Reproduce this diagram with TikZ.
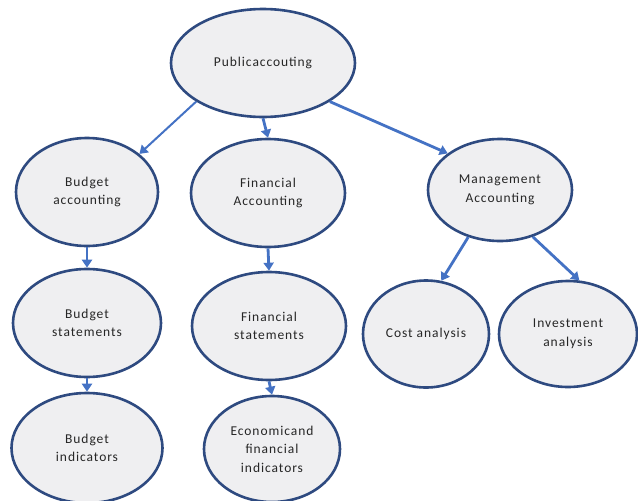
\documentclass[tikz,border=0pt]{standalone}
\usepackage{fontspec}
\setmainfont{Carlito}[LetterSpace=7]
\usetikzlibrary{shapes.geometric,arrows.meta}
\definecolor{bord}{HTML}{2E4A80}
\definecolor{arr}{HTML}{4472C4}
\definecolor{fillg}{HTML}{EFEFF1}
\tikzset{
  ell/.style={ellipse, draw=bord, line width=2.6pt, fill=fillg, inner sep=0pt,
    align=center, font=\fontsize{13.5}{18.5}\selectfont, text=black!85},
  link/.style={draw=arr, line width=2.8pt, -{Triangle[width=10pt,length=8pt]}},
}
\begin{document}
\begin{tikzpicture}[x=1pt,y=-1pt]
\useasboundingbox (0,0) rectangle (638,501);
\node[ell, minimum width=184pt, minimum height=108pt] (pub) at (263,63) {Publicaccouting};
\node[ell, minimum width=142pt, minimum height=108pt] (ba) at (87,192) {Budget\\accounting};
\node[ell, minimum width=154pt, minimum height=108pt] (fa) at (268,193) {Financial\\Accounting};
\node[ell, minimum width=144pt, minimum height=102pt] (ma) at (500,190) {Management\\Accounting};
\node[ell, minimum width=148pt, minimum height=108pt] (bs) at (87,323) {Budget\\statements};
\node[ell, minimum width=154pt, minimum height=108pt] (fs) at (269,326) {Financial\\statements};
\node[ell, minimum width=126pt, minimum height=107pt] (ca) at (426,334) {Cost analysis};
\node[ell, minimum width=138pt, minimum height=106pt] (ia) at (568,334) {Investment\\analysis};
\node[ell, minimum width=151pt, minimum height=110pt] (bi) at (87,448) {Budget\\indicators};
\node[ell, minimum width=136pt, minimum height=106pt] (ef) at (272,449) {Economicand\\financial\\indicators};
\draw[link, line width=2pt] (pub.210) -- (ba.36);
\draw[link] (pub.south) -- (fa.north);
\draw[link] (pub.330) -- (ma.145);
\draw[link] (ma.236) -- (ca.74);
\draw[link] (ma.305) -- (ia.78);
\draw[link] (ba.south) -- (bs.north);
\draw[link] (bs.south) -- (bi.north);
\draw[link] (fa.south) -- (fs.north);
\draw[link] (fs.south) -- (ef.north);
\end{tikzpicture}
\end{document}
